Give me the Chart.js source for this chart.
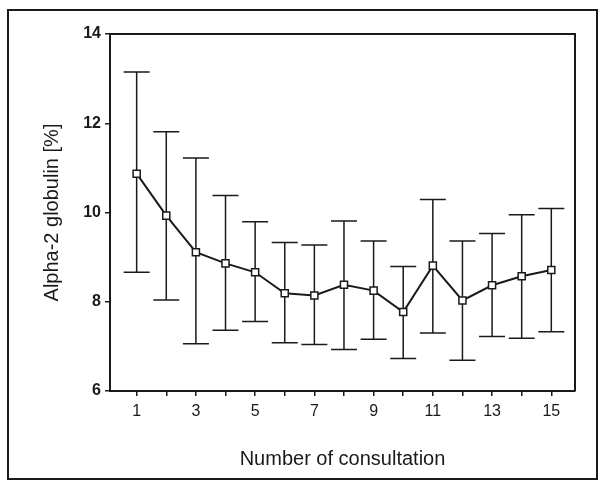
<!DOCTYPE html>
<html>
<head>
<meta charset="utf-8">
<script src="https://cdn.jsdelivr.net/npm/chart.js@4/dist/chart.umd.min.js"></script>
<style>
  html, body { margin: 0; padding: 0; background: #fff; }
  #wrap { position: relative; width: 600px; height: 486px; }
</style>
</head>
<body>
<div id="wrap"><canvas id="c" width="600" height="486"></canvas></div>
<script>
// ---- data ----
const consultations = [1,2,3,4,5,6,7,8,9,10,11,12,13,14,15];
const meanValues  = [10.87, 9.93, 9.11, 8.86, 8.66, 8.19, 8.14, 8.38, 8.25, 7.77, 8.81, 8.03, 8.37, 8.57, 8.71];
const upperValues = [13.15, 11.81, 11.22, 10.38, 9.79, 9.33, 9.27, 9.81, 9.36, 8.79, 10.29, 9.36, 9.53, 9.95, 10.09];
const lowerValues = [8.66, 8.04, 7.06, 7.36, 7.56, 7.08, 7.04, 6.93, 7.16, 6.73, 7.30, 6.69, 7.22, 7.18, 7.33];
const xTickValues = [1,2,3,4,5,6,7,8,9,10,11,12,13,14,15];
const xTickLabels = ['1','','3','','5','','7','','9','','11','','13','','15'];
const yTickValues = [6, 8, 10, 12, 14];

const INK = '#1a1a1a';
const FONT = 'Liberation Sans, Arial, sans-serif';

const errorBars = {
  id: 'errorBars',
  beforeDatasetsDraw(chart) {
    const ctx = chart.ctx, xs = chart.scales.x, ys = chart.scales.y;
    ctx.save();
    ctx.strokeStyle = INK;
    ctx.lineWidth = 1.5;
    consultations.forEach((c, i) => {
      const x = xs.getPixelForValue(c);
      const yU = ys.getPixelForValue(upperValues[i]);
      const yL = ys.getPixelForValue(lowerValues[i]);
      const w = 13;
      ctx.beginPath();
      ctx.moveTo(x, yU); ctx.lineTo(x, yL);
      ctx.moveTo(x - w, yU); ctx.lineTo(x + w, yU);
      ctx.moveTo(x - w, yL); ctx.lineTo(x + w, yL);
      ctx.stroke();
    });
    ctx.restore();
  }
};

const frames = {
  id: 'frames',
  afterDraw(chart) {
    const ctx = chart.ctx, a = chart.chartArea;
    ctx.save();
    ctx.strokeStyle = INK;
    ctx.lineWidth = 2;
    ctx.beginPath();
    ctx.moveTo(a.left, a.top); ctx.lineTo(a.right, a.top); ctx.lineTo(a.right, a.bottom);
    ctx.stroke();
    ctx.strokeRect(8, 10, 589, 469);
    ctx.restore();
  }
};

new Chart(document.getElementById('c'), {
  type: 'line',
  data: {
    datasets: [{
      data: consultations.map((c, i) => ({ x: c, y: meanValues[i] })),
      borderColor: INK,
      borderWidth: 2,
      tension: 0,
      pointStyle: 'rect',
      pointRadius: 5,
      pointBorderWidth: 1.5,
      pointBorderColor: INK,
      pointBackgroundColor: '#fff'
    }]
  },
  options: {
    responsive: false,
    animation: false,
    events: [],
    layout: { padding: { left: 38, right: 25, top: 34, bottom: 11 } },
    plugins: { legend: { display: false }, tooltip: { enabled: false } },
    scales: {
      x: {
        type: 'linear',
        min: 0.1,
        max: 15.8,
        afterBuildTicks(scale) { scale.ticks = xTickValues.map(v => ({ value: v })); },
        afterFit(scale) { scale.height = 84; },
        ticks: {
          autoSkip: false,
          maxRotation: 0,
          color: INK,
          padding: 6,
          font: { family: FONT, size: 16 },
          callback: (v) => xTickLabels[xTickValues.indexOf(v)]
        },
        grid: { drawOnChartArea: false, drawTicks: true, tickLength: 5, color: INK, lineWidth: 1.5 },
        border: { display: true, color: INK, width: 2 },
        title: {
          display: true,
          text: 'Number of consultation',
          color: INK,
          font: { family: FONT, size: 20 },
          padding: { top: 0, bottom: 4 }
        }
      },
      y: {
        type: 'linear',
        min: 6,
        max: 14,
        afterBuildTicks(scale) { scale.ticks = yTickValues.map(v => ({ value: v })); },
        afterFit(scale) { scale.width = 72; },
        ticks: {
          color: INK,
          padding: 4,
          font: { family: FONT, size: 16, weight: 'bold' }
        },
        grid: { drawOnChartArea: false, drawTicks: true, tickLength: 5, color: INK, lineWidth: 1.5 },
        border: { display: true, color: INK, width: 2 },
        title: {
          display: true,
          text: 'Alpha-2 globulin [%]',
          color: INK,
          font: { family: FONT, size: 20 },
          padding: { top: 2, bottom: 0 }
        }
      }
    }
  },
  plugins: [errorBars, frames]
});
</script>
</body>
</html>
